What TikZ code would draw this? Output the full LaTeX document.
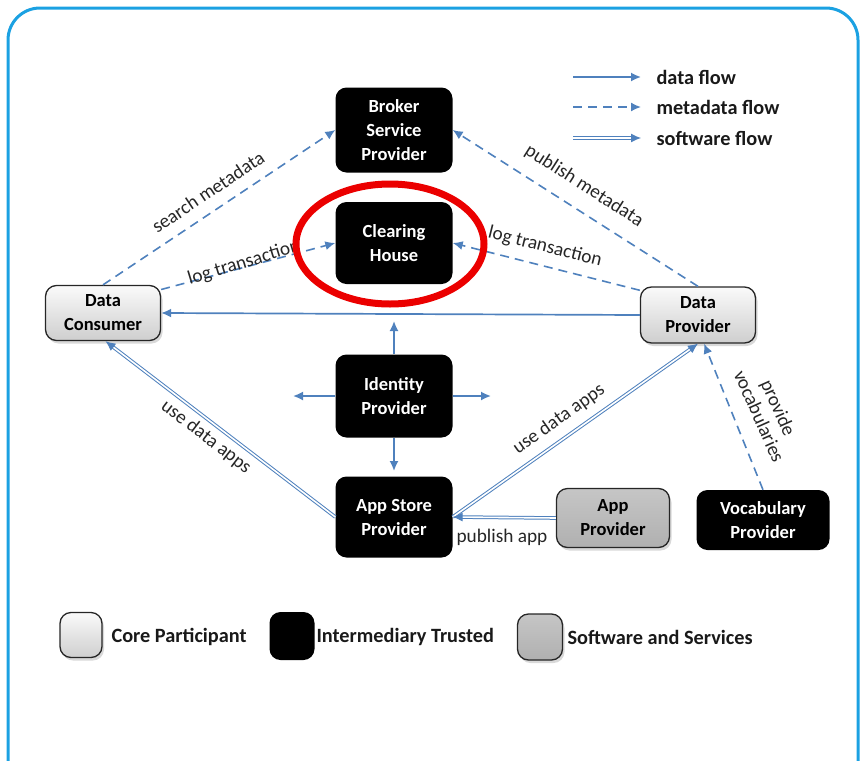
\documentclass[tikz,border=0pt]{standalone}
\usepackage{fontspec}
\setmainfont{Carlito}
\usetikzlibrary{arrows.meta,shadows,calc}
\definecolor{fb}{RGB}{79,129,189}
\definecolor{framec}{RGB}{27,161,226}
\definecolor{redc}{RGB}{235,0,0}
\begin{document}
\begin{tikzpicture}[x=1pt,y=-1pt,
  every node/.style={font=\fontsize{18.5}{24}\selectfont},
  basebox/.style={rounded corners=11pt, align=center, inner sep=2pt,
     font=\fontsize{18.5}{24}\selectfont\bfseries},
  trustbox/.style={basebox, fill=black, text=white, minimum width=117pt, minimum height=82pt},
  corebox/.style={basebox, draw=black!85, line width=1.3pt, top color=gray!4, bottom color=gray!38,
     minimum width=115pt, minimum height=55pt,
     drop shadow={shadow xshift=2pt, shadow yshift=-3pt, opacity=0.3}},
  softbox/.style={basebox, draw=black!85, line width=1.3pt, top color=gray!45, bottom color=gray!62,
     minimum width=113pt, minimum height=59pt,
     drop shadow={shadow xshift=2pt, shadow yshift=-3pt, opacity=0.3}},
  lbl/.style={font=\fontsize{19.3}{20}\selectfont, text=black!85, inner sep=1pt},
  legtext/.style={font=\fontsize{20.3}{22}\selectfont\bfseries, text=black!90},
  tip/.style={-{Latex[length=10pt,width=9pt]}},
  dataflow/.style={draw=fb, line width=1.7pt, tip},
  metaflow/.style={draw=fb, line width=1.6pt, dash pattern=on 9pt off 6pt, tip},
  softflow/.style={draw=fb, line width=1pt, double=white, double distance=1.6pt,
     -{Latex[length=10pt,width=9pt]}},
]
\useasboundingbox (0,0) rectangle (863,761);
\clip (0,0) rectangle (863,761);
\draw[framec, line width=3pt, rounded corners=32pt] (8,8) rectangle (858,800);

% nodes
\node[trustbox, minimum height=85pt] (bsp) at (394,130) {Broker\\Service\\Provider};
\node[trustbox] (ch) at (394,243) {Clearing\\House};
\node[corebox] (dc) at (103,313) {Data\\Consumer};
\node[corebox, minimum height=56pt] (dp) at (698,315) {Data\\Provider};
\node[trustbox, minimum height=83pt] (idp) at (394,396) {Identity\\Provider};
\node[trustbox, minimum height=81pt] (asp) at (394,517) {App Store\\Provider};
\node[softbox] (ap) at (613,518) {App\\Provider};
\node[trustbox, minimum width=133pt, minimum height=60pt] (vp) at (763,520) {Vocabulary\\Provider};

% connectors
\draw[metaflow] (dc.north) -- (bsp.west);
\draw[metaflow] (dp.north) -- (bsp.east);
\draw[metaflow] (dc.22) -- (ch.west);
\draw[metaflow] (dp.157) -- (ch.east);
\draw[dataflow] (dp.west) -- (dc.east);
\draw[softflow] (asp.west) -- (dc.-85);
\draw[softflow] (asp.east) -- (dp.south);
\draw[softflow] (ap.west) -- (asp.east);
\draw[metaflow] (vp.north) -- (dp.-78);

\coordinate (iu) at (394,321);
\coordinate (il) at (293,396);
\coordinate (ir) at (491,396);
\coordinate (id) at (394,471);
\draw[dataflow] (idp.north) -- (iu);
\draw[dataflow] (idp.west) -- (il);
\draw[dataflow] (idp.east) -- (ir);
\draw[dataflow] (idp.south) -- (id);

% labels
\node[lbl, rotate=33.7] (l1) at (208,192) {search metadata};
\node[lbl, rotate=-32.6] (l2) at (584,186) {publish metadata};
\node[lbl, rotate=17] (l3) at (244,263) {log transaction};
\node[lbl, rotate=-14] (l4) at (545,247) {log transaction};
\node[lbl, rotate=-37.4] (l5) at (206,437) {use data apps};
\node[lbl, rotate=35.3] (l6) at (559,419) {use data apps};
\node[lbl] (l7) at (502,537) {publish app};
\node[lbl, rotate=-66, align=center, font=\fontsize{19.3}{21}\selectfont] (l8) at (769,412) {provide\\vocabularies};

% red highlight
\draw[redc, line width=7pt] (390,244) ellipse [x radius=94, y radius=60];

% top legend
\coordinate (a1) at (573,77); \coordinate (b1) at (641,77);
\coordinate (a2) at (573,107); \coordinate (b2) at (641,107);
\coordinate (a3) at (573,138); \coordinate (b3) at (641,138);
\draw[dataflow] (a1) -- (b1);
\draw[metaflow] (a2) -- (b2);
\draw[softflow] (a3) -- (b3);
\node[legtext, anchor=west] (t1) at (653,77) {data flow};
\node[legtext, anchor=west] (t2) at (653,107) {metadata flow};
\node[legtext, anchor=west] (t3) at (653,138) {software flow};

% bottom legend
\node[corebox, minimum width=42pt, minimum height=45pt] (g1) at (81,635) {};
\node[legtext, anchor=west] (g1t) at (108,637) {Core Participant};
\node[trustbox, minimum width=45pt, minimum height=48pt] (g2) at (292,636) {};
\node[legtext, anchor=west] (g2t) at (313,637) {Intermediary Trusted};
\node[softbox, minimum width=45pt, minimum height=46pt] (g3) at (540,637) {};
\node[legtext, anchor=west] (g3t) at (564,637) {Software and Services};
\end{tikzpicture}
\end{document}
